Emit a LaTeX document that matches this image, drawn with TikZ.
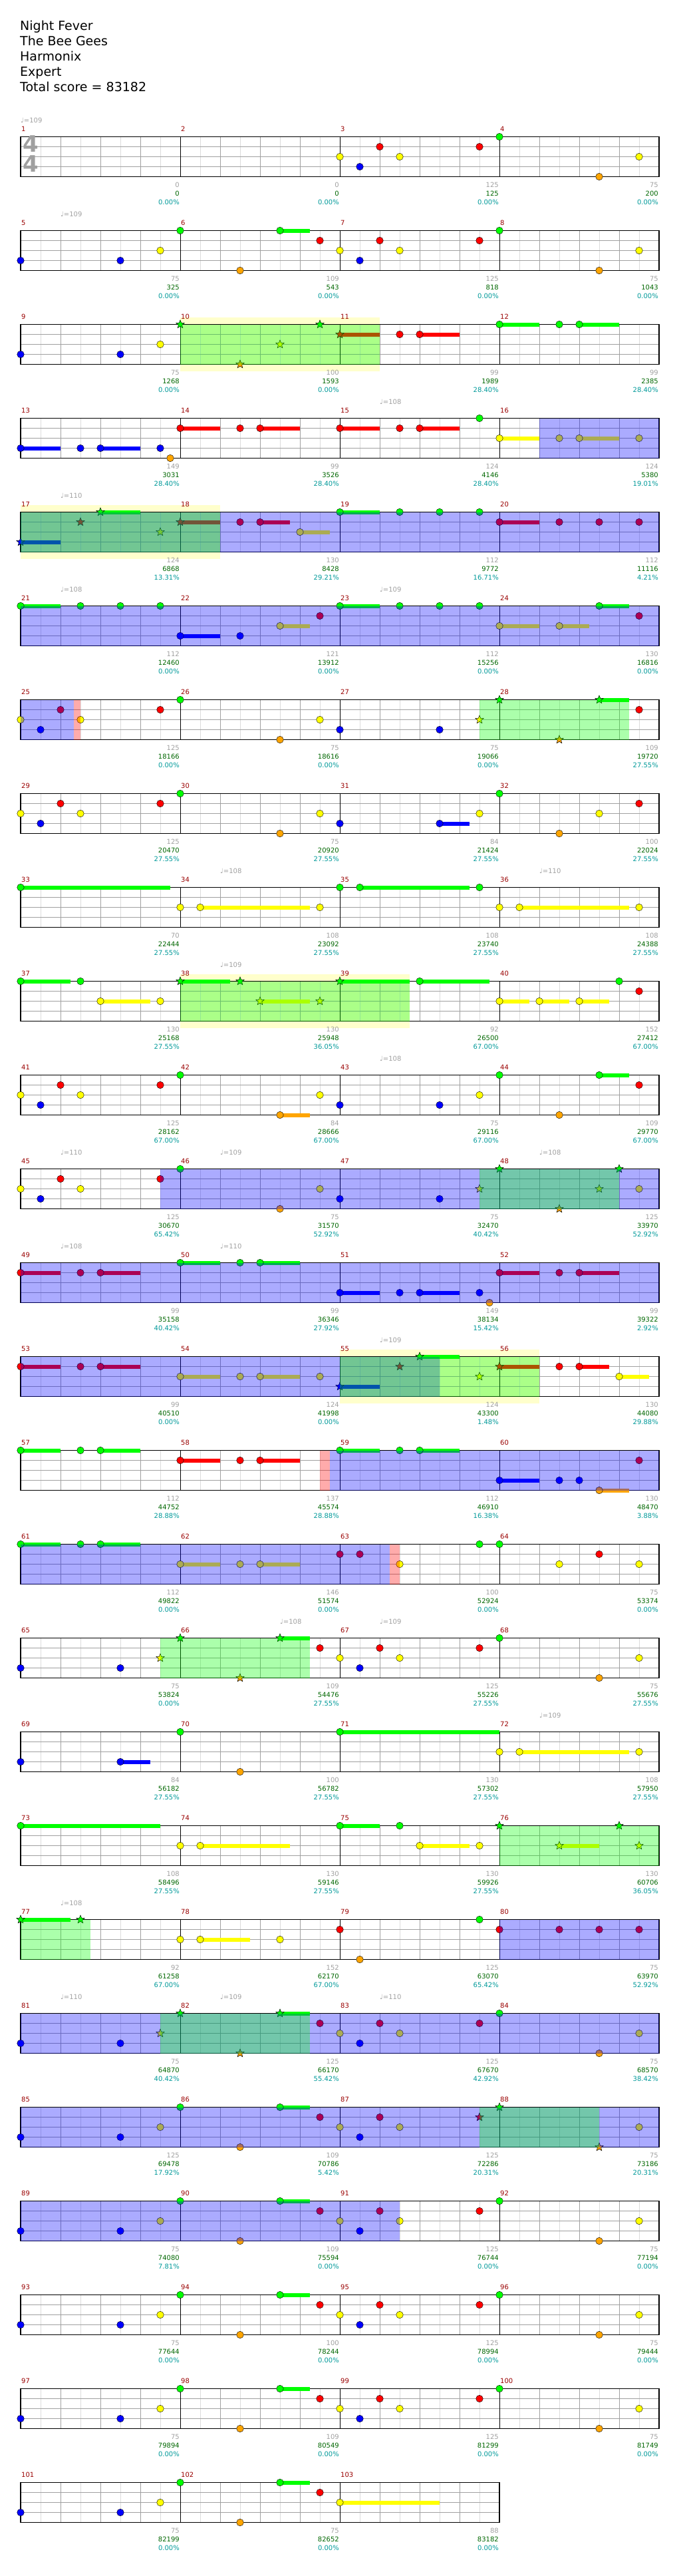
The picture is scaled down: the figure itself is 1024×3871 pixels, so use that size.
\documentclass[tikz,border=0pt]{standalone}
\usepackage{fontspec}
\setmainfont{DejaVu Sans}
\usepackage{tikz}
\usetikzlibrary{shapes.geometric, backgrounds}
\definecolor{fret0}{HTML}{00FF00}
\definecolor{fret1}{HTML}{FF0000}
\definecolor{fret2}{HTML}{FFFF00}
\definecolor{fret3}{HTML}{0000FF}
\definecolor{fret4}{HTML}{FFA500}
\definecolor{barred}{HTML}{990000}
\definecolor{ptgrey}{HTML}{A0A0A0}
\definecolor{ptgreen}{HTML}{006600}
\definecolor{ptcyan}{HTML}{009999}
\definecolor{gridgrey}{HTML}{A0A0A0}
\definecolor{gridlight}{HTML}{DCDCDC}
\definecolor{spyellow}{HTML}{FFFFCC}

% one staff: row #1, #2 bars
\newcommand{\staffrow}[2]{%
  \pgfmathsetmacro{\ty}{205.5+141*#1}%
  \pgfmathsetmacro{\xr}{31+240*#2}%
  \pgfmathtruncatemacro{\ne}{8*#2-1}%
  \pgfmathtruncatemacro{\nq}{4*#2-1}%
  \pgfmathtruncatemacro{\nb}{#2-1}%
  \foreach \i in {1,3,...,\ne} \draw[gridlight] (31+30*\i,\ty) -- ++(0,60);
  \foreach \i in {1,...,\nq} \draw[gridgrey] (31+60*\i,\ty) -- ++(0,60);
  \foreach \j in {1,2,3} \draw[gridgrey] (31,\ty+15*\j) -- (\xr,\ty+15*\j);
  \foreach \i in {1,...,\nb} \draw[black] (31+240*\i,\ty) -- ++(0,60);
  \draw[black, line width=1.2] (31,\ty) rectangle (\xr,\ty+60);
}
% plain gems: position/lane/sustain
\newcommand{\gems}[2]{%
  \pgfmathsetmacro{\ty}{205.5+141*#1}%
  \foreach \p/\l/\s in {#2} {
    \ifnum\s>0 \fill[fret\l] (31+15*\p,\ty+15*\l-3) rectangle ++(15*\s,6); \fi
    \draw[fill=fret\l] (31+15*\p,\ty+15*\l) circle[radius=5.3];
  }}
% star gems
\newcommand{\stars}[2]{%
  \pgfmathsetmacro{\ty}{205.5+141*#1}%
  \foreach \p/\l/\s in {#2} {
    \ifnum\s>0 \fill[fret\l] (31+15*\p,\ty+15*\l-3) rectangle ++(15*\s,6); \fi
    \node[spstar, fill=fret\l] (s#1-\p) at (31+15*\p,\ty+15*\l) {};
  }}

\begin{document}
\begin{tikzpicture}[x=1pt, y=-1pt,
    barno/.style={anchor=west, inner sep=0, text=barred, font=\fontsize{10}{10}\selectfont},
    pts/.style={anchor=east, inner sep=0, font=\fontsize{10}{10}\selectfont},
    tempo/.style={anchor=west, inner sep=0, text=ptgrey, font=\fontsize{10}{10}\selectfont},
    spstar/.style={star, star points=5, star point ratio=2.3, minimum size=13, inner sep=0, draw=black, line width=.5}]
  \useasboundingbox (0,0) rectangle (1024,3871);
  \node[anchor=north west, align=left, inner sep=0, font=\fontsize{19}{22.85}\selectfont] (title) at (30,31)
    {Night Fever\\The Bee Gees\\Harmonix\\Expert\\Total score = 83182};

  % star power phrases
  \begin{scope}[on background layer]
    \foreach \k/\a/\b in {2/16/36, 4/0/20, 9/16/39, 13/32/52}
      \fill[spyellow] (31+15*\a,205.5+141*\k-10.5) rectangle (31+15*\b,205.5+141*\k+70.5);
  \end{scope}

  % staves
  \foreach \k in {0,...,24} {\staffrow{\k}{4}}
  \staffrow{25}{3}
  \node[anchor=north west, inner sep=0, text=ptgrey, align=center, font=\bfseries\fontsize{34}{30}\selectfont] (metre) at (34,204) {4\\4};

  % bar numbers
  \foreach \m in {1,...,103} {
    \pgfmathtruncatemacro{\rw}{(\m-1)/4}
    \pgfmathtruncatemacro{\cl}{mod(\m-1,4)}
    \node[barno] (bar\m) at (32+240*\cl,205.5+141*\rw-12) {\m};
  }

  % tempo marks
  \foreach \k/\p/\t in {0/0/109, 1/4/109, 3/36/108, 4/4/110, 5/4/108, 5/36/109, 8/20/108, 8/52/110,
      9/20/109, 10/36/108, 11/4/110, 11/20/109, 11/52/108, 12/4/108, 12/20/110, 13/36/109,
      16/26/108, 16/36/109, 17/52/109, 19/4/108, 20/4/110, 20/20/109, 20/36/110}
    \node[tempo] (bpm\k-\p) at (31+15*\p,205.5+141*\k-25) {♩=\t};

  % gems
  \gems{0}{32/2/0,34/3/0,36/1/0,38/2/0,46/1/0,48/0/0,58/4/0,62/2/0}
  \gems{1}{0/3/0,10/3/0,14/2/0,16/0/0,22/4/0,26/0/3,30/1/0,32/2/0,34/3/0,36/1/0,38/2/0,46/1/0,48/0/0,58/4/0,62/2/0}
  \gems{2}{0/3/0,10/3/0,14/2/0,38/1/0,40/1/4,48/0/4,54/0/0,56/0/4}
  \stars{2}{16/0/0,22/4/0,26/2/0,30/0/0,32/1/4}
  \gems{3}{0/3/4,6/3/0,8/3/4,14/3/0,15/4/0,16/1/4,22/1/0,24/1/4,32/1/4,38/1/0,40/1/4,46/0/0,48/2/4,54/2/0,56/2/4,62/2/0}
  \stars{4}{0/3/4,6/1/0,8/0/4,14/2/0,16/1/4}
  \gems{4}{22/1/0,24/1/3,28/2/3,32/0/4,38/0/0,42/0/0,46/0/0,48/1/4,54/1/0,58/1/0,62/1/0}
  \gems{5}{0/0/4,6/0/0,10/0/0,14/0/0,16/3/4,22/3/0,26/2/3,30/1/0,32/0/4,38/0/0,42/0/0,46/0/0,48/2/4,54/2/3,58/0/3,62/1/0}
  \gems{6}{0/2/0,2/3/0,4/1/0,6/2/0,14/1/0,16/0/0,26/4/0,30/2/0,32/3/0,42/3/0,62/1/0}
  \stars{6}{46/2/0,48/0/0,54/4/0,58/0/3}
  \gems{7}{0/2/0,2/3/0,4/1/0,6/2/0,14/1/0,16/0/0,26/4/0,30/2/0,32/3/0,42/3/3,46/2/0,48/0/0,54/4/0,58/2/0,62/1/0}
  \gems{8}{0/0/15,16/2/0,18/2/11,30/2/0,32/0/0,34/0/11,46/0/0,48/2/0,50/2/11,62/2/0}
  \gems{9}{0/0/5,6/0/0,8/2/5,14/2/0,40/0/7,48/2/3,52/2/3,56/2/3,60/0/0,62/1/0}
  \stars{9}{16/0/5,22/0/0,24/2/5,30/2/0,32/0/7}
  \gems{10}{0/2/0,2/3/0,4/1/0,6/2/0,14/1/0,16/0/0,26/4/3,30/2/0,32/3/0,42/3/0,46/2/0,48/0/0,54/4/0,58/0/3,62/1/0}
  \gems{11}{0/2/0,2/3/0,4/1/0,6/2/0,14/1/0,16/0/0,26/4/0,30/2/0,32/3/0,42/3/0,62/2/0}
  \stars{11}{46/2/0,48/0/0,54/4/0,58/2/0,60/0/0}
  \gems{12}{0/1/4,6/1/0,8/1/4,16/0/4,22/0/0,24/0/4,32/3/4,38/3/0,40/3/4,46/3/0,47/4/0,48/1/4,54/1/0,56/1/4}
  \gems{13}{0/1/4,6/1/0,8/1/4,16/2/4,22/2/0,24/2/4,30/2/0,54/1/0,56/1/3,60/2/3}
  \stars{13}{32/3/4,38/1/0,40/0/4,46/2/0,48/1/4}
  \gems{14}{0/0/4,6/0/0,8/0/4,16/1/4,22/1/0,24/1/4,32/0/4,38/0/0,40/0/4,48/3/4,54/3/0,56/3/0,58/4/3,62/1/0}
  \gems{15}{0/0/4,6/0/0,8/0/4,16/2/4,22/2/0,24/2/4,32/1/0,34/1/0,38/2/0,46/0/0,48/0/0,54/2/0,58/1/0,62/2/0}
  \gems{16}{0/3/0,10/3/0,30/1/0,32/2/0,34/3/0,36/1/0,38/2/0,46/1/0,48/0/0,58/4/0,62/2/0}
  \stars{16}{14/2/0,16/0/0,22/4/0,26/0/3}
  \gems{17}{0/3/0,10/3/3,16/0/0,22/4/0,32/0/16,48/2/0,50/2/11,62/2/0}
  \gems{18}{0/0/14,16/2/0,18/2/9,32/0/4,38/0/0,40/2/5,46/2/0}
  \stars{18}{48/0/0,54/2/4,60/0/0,62/2/0}
  \stars{19}{0/0/5,6/0/0}
  \gems{19}{16/2/0,18/2/5,26/2/0,32/1/0,34/4/0,46/0/0,48/1/0,54/1/0,58/1/0,62/1/0}
  \gems{20}{0/3/0,10/3/0,30/1/0,32/2/0,34/3/0,36/1/0,38/2/0,46/1/0,48/0/0,58/4/0,62/2/0}
  \stars{20}{14/2/0,16/0/0,22/4/0,26/0/3}
  \gems{21}{0/3/0,10/3/0,14/2/0,16/0/0,22/4/0,26/0/3,30/1/0,32/2/0,34/3/0,36/1/0,38/2/0,62/2/0}
  \stars{21}{46/1/0,48/0/0,58/4/0}
  \gems{22}{0/3/0,10/3/0,14/2/0,16/0/0,22/4/0,26/0/3,30/1/0,32/2/0,34/3/0,36/1/0,38/2/0,46/1/0,48/0/0,58/4/0,62/2/0}
  \gems{23}{0/3/0,10/3/0,14/2/0,16/0/0,22/4/0,26/0/3,30/1/0,32/2/0,34/3/0,36/1/0,38/2/0,46/1/0,48/0/0,58/4/0,62/2/0}
  \gems{24}{0/3/0,10/3/0,14/2/0,16/0/0,22/4/0,26/0/3,30/1/0,32/2/0,34/3/0,36/1/0,38/2/0,46/1/0,48/0/0,58/4/0,62/2/0}
  \gems{25}{0/3/0,10/3/0,14/2/0,16/0/0,22/4/0,26/0/3,30/1/0,32/2/10}

  % overdrive zones
  \foreach \k/\a/\b/\z in {2/16/36/fret0, 3/52/64/fret3, 4/0/64/fret3, 4/0/20/fret0, 5/0/64/fret3,
      6/0/5.33/fret3, 6/5.33/6/fret1, 6/46/61/fret0, 9/16/39/fret0, 11/14/64/fret3, 11/46/60/fret0,
      12/0/64/fret3, 13/0/42/fret3, 13/32/52/fret0, 14/30/31/fret1, 14/31/64/fret3,
      15/0/37/fret3, 15/37/38/fret1, 16/14/29/fret0, 18/48/64/fret0, 19/0/7/fret0, 19/48/64/fret3,
      20/0/64/fret3, 20/14/29/fret0, 21/0/64/fret3, 21/46/58/fret0, 22/0/38/fret3}
    \fill[\z, opacity=.33] (31+15*\a,205.5+141*\k) rectangle (31+15*\b,205.5+141*\k+60);

  % scores under each bar
  \foreach \m/\ga/\gb/\gc in {1/0/0/0.00, 2/0/0/0.00, 3/125/125/0.00, 4/75/200/0.00,
      5/75/325/0.00, 6/109/543/0.00, 7/125/818/0.00, 8/75/1043/0.00,
      9/75/1268/0.00, 10/100/1593/0.00, 11/99/1989/28.40, 12/99/2385/28.40,
      13/149/3031/28.40, 14/99/3526/28.40, 15/124/4146/28.40, 16/124/5380/19.01,
      17/124/6868/13.31, 18/130/8428/29.21, 19/112/9772/16.71, 20/112/11116/4.21,
      21/112/12460/0.00, 22/121/13912/0.00, 23/112/15256/0.00, 24/130/16816/0.00,
      25/125/18166/0.00, 26/75/18616/0.00, 27/75/19066/0.00, 28/109/19720/27.55,
      29/125/20470/27.55, 30/75/20920/27.55, 31/84/21424/27.55, 32/100/22024/27.55,
      33/70/22444/27.55, 34/108/23092/27.55, 35/108/23740/27.55, 36/108/24388/27.55,
      37/130/25168/27.55, 38/130/25948/36.05, 39/92/26500/67.00, 40/152/27412/67.00,
      41/125/28162/67.00, 42/84/28666/67.00, 43/75/29116/67.00, 44/109/29770/67.00,
      45/125/30670/65.42, 46/75/31570/52.92, 47/75/32470/40.42, 48/125/33970/52.92,
      49/99/35158/40.42, 50/99/36346/27.92, 51/149/38134/15.42, 52/99/39322/2.92,
      53/99/40510/0.00, 54/124/41998/0.00, 55/124/43300/1.48, 56/130/44080/29.88,
      57/112/44752/28.88, 58/137/45574/28.88, 59/112/46910/16.38, 60/130/48470/3.88,
      61/112/49822/0.00, 62/146/51574/0.00, 63/100/52924/0.00, 64/75/53374/0.00,
      65/75/53824/0.00, 66/109/54476/27.55, 67/125/55226/27.55, 68/75/55676/27.55,
      69/84/56182/27.55, 70/100/56782/27.55, 71/130/57302/27.55, 72/108/57950/27.55,
      73/108/58496/27.55, 74/130/59146/27.55, 75/130/59926/27.55, 76/130/60706/36.05,
      77/92/61258/67.00, 78/152/62170/67.00, 79/125/63070/65.42, 80/75/63970/52.92,
      81/75/64870/40.42, 82/125/66170/55.42, 83/125/67670/42.92, 84/75/68570/38.42,
      85/125/69478/17.92, 86/109/70786/5.42, 87/125/72286/20.31, 88/75/73186/20.31,
      89/75/74080/7.81, 90/109/75594/0.00, 91/125/76744/0.00, 92/75/77194/0.00,
      93/75/77644/0.00, 94/100/78244/0.00, 95/125/78994/0.00, 96/75/79444/0.00,
      97/75/79894/0.00, 98/109/80549/0.00, 99/125/81299/0.00, 100/75/81749/0.00,
      101/75/82199/0.00, 102/75/82652/0.00, 103/88/83182/0.00} {
    \pgfmathtruncatemacro{\rw}{(\m-1)/4}
    \pgfmathtruncatemacro{\cl}{mod(\m-1,4)}
    \pgfmathsetmacro{\xe}{270+240*\cl}
    \pgfmathsetmacro{\ty}{205.5+141*\rw}
    \node[pts, text=ptgrey] (pa\m) at (\xe,\ty+72) {\ga};
    \node[pts, text=ptgreen] (pb\m) at (\xe,\ty+85) {\gb};
    \node[pts, text=ptcyan] (pc\m) at (\xe,\ty+98) {\gc\%};
  }
\end{tikzpicture}
\end{document}
